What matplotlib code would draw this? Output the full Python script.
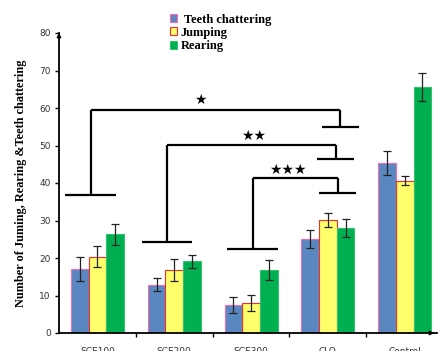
import matplotlib
matplotlib.use("Agg")
import matplotlib.pyplot as plt
import numpy as np

categories = ["SCE100", "SCE200", "SCE300", "CLO", "Control"]
series = ["Teeth chattering", "Jumping", "Rearing"]
teeth = [17.1, 12.9, 7.4, 25.0, 45.4]
teeth_err = [3.3, 1.8, 2.1, 2.4, 3.2]
jumping = [20.3, 16.9, 8.0, 30.1, 40.6]
jumping_err = [2.8, 2.9, 2.1, 1.8, 1.2]
rearing = [26.3, 19.1, 16.8, 28.0, 65.7]
rearing_err = [2.9, 1.7, 2.7, 2.3, 3.7]
yticks = [0, 10, 20, 30, 40, 50, 60, 70, 80]

# significance brackets: (left x, left bottom y, top y, right x, right bottom y, star x, star y, label)
brackets = [
    (-0.09, 36.7, 59.6, 3.16, 54.9, 1.34, 62.2, "★"),
    (0.905, 24.3, 50.1, 3.10, 46.3, 2.03, 52.5, "★★"),
    (2.02, 22.4, 41.4, 3.13, 37.4, 2.48, 43.4, "★★★"),
]

fig = plt.figure(figsize=(4.4, 3.51), dpi=100)
ax = fig.add_axes([59/440, 18/351, (437-59)/440, (333-33)/351])

x = np.arange(len(categories))
w = 0.23
face = ["#5B87C0", "#FFFF6B", "#00B050"]
edge = ["#F06EB0", "#F03030", "#33C070"]
vals = [teeth, jumping, rearing]
errs = [teeth_err, jumping_err, rearing_err]
for i in range(3):
    ax.bar(x + (i - 1) * w, vals[i], w, color=face[i], edgecolor=edge[i], linewidth=0.8,
           yerr=errs[i], error_kw=dict(ecolor="#222222", elinewidth=0.9, capsize=3, capthick=0.9),
           label=series[i], zorder=2)

for lx, ly, ty, rx, ry, sx, sy, lab in brackets:
    kw = dict(color="black", lw=1.6, solid_capstyle="butt", zorder=3)
    ax.plot([lx, lx], [ly, ty], **kw)
    ax.plot([lx - 0.33, lx + 0.33], [ly, ly], **kw)
    ax.plot([lx, rx], [ty, ty], **kw)
    ax.plot([rx, rx], [ty, ry], **kw)
    ax.plot([rx - 0.24, rx + 0.24], [ry, ry], **kw)
    ax.text(sx, sy, lab, ha="center", va="center", fontsize=10,
            family=["DejaVu Sans"], color="black")

ax.set_xlim(-0.5, 4.42)
ax.set_ylim(0, 80)
ax.set_yticks(yticks)
ax.set_xticks(x)
ax.set_xticklabels(categories)
ax.set_xticks(np.arange(0.5, 4.5, 1), minor=True)
ax.tick_params(axis="x", which="major", length=0, pad=10, labelsize=6.5, labelcolor="#333333")
ax.tick_params(axis="x", which="minor", length=3, direction="out", width=1)
ax.tick_params(axis="y", length=3, direction="out", width=1, labelsize=6.5, labelcolor="#333333", pad=3)
for s in ["top", "right"]:
    ax.spines[s].set_visible(False)
for s in ["left", "bottom"]:
    ax.spines[s].set_linewidth(1.3)
ax.annotate("", xy=(0, 1.01), xytext=(0, 0.98), xycoords="axes fraction",
            arrowprops=dict(arrowstyle="-|>", color="black", lw=1, mutation_scale=6))
ax.annotate("", xy=(1.0, 0), xytext=(0.98, 0), xycoords="axes fraction",
            arrowprops=dict(arrowstyle="-|>", color="black", lw=1, mutation_scale=6))

ax.set_ylabel("Number of Juming, Rearing &Teeth chattering", family="Liberation Serif",
              fontweight="bold", fontsize=8.8, labelpad=9)

handles, labels = ax.get_legend_handles_labels()
leg = fig.legend(handles, [" Teeth chattering", "Jumping", "Rearing"], loc="upper left",
                 bbox_to_anchor=(162/440, 1 - 6/351), frameon=False,
                 prop=dict(family="Liberation Serif", weight="bold", size=9),
                 handlelength=0.6, handleheight=0.6, handletextpad=0.3, labelspacing=0.1,
                 borderpad=0.1)

fig.savefig("out.png", dpi=100)
